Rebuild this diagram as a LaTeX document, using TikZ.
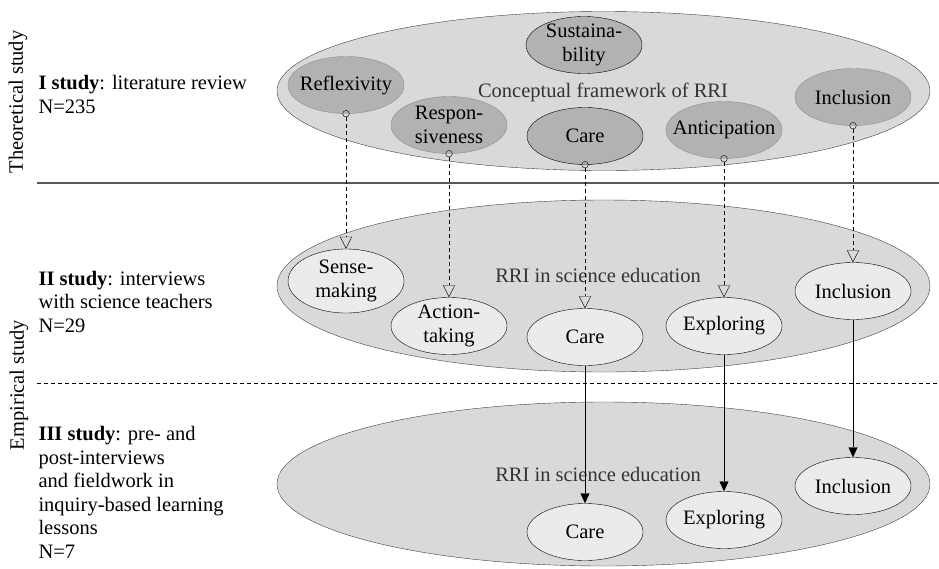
\documentclass[tikz,border=0pt]{standalone}
\usepackage{fontspec}
\setmainfont{Liberation Serif}
\usetikzlibrary{shapes.geometric,arrows.meta}

\definecolor{ovalbg}{gray}{0.85}
\definecolor{conceptbg}{gray}{0.70}
\definecolor{themebg}{gray}{0.92}
\definecolor{rimgray}{gray}{0.55}

\tikzset{
  studyoval/.style={ellipse, draw=black!75, fill=ovalbg, minimum width=653pt},
  concept/.style={ellipse, draw=rimgray, fill=conceptbg, minimum width=116pt,
    minimum height=57pt, inner sep=-12pt, align=center},
  keyconcept/.style={concept, draw=black},
  theme/.style={concept, draw=black, fill=themebg},
  carries/.style={dash pattern=on 4pt off 3pt, shorten <=-3.5pt,
    {Circle[open,length=7pt,width=7pt]}-{Triangle[open,length=12pt,width=12pt]}},
  follows/.style={-{Triangle[length=10pt,width=9pt]}},
  studytext/.style={anchor=base west, align=left},
}

\begin{document}
\begin{tikzpicture}[x=1pt,y=-1pt,font=\fontsize{20.5}{23.5}\selectfont]
\useasboundingbox (0,0) rectangle (939,568);

% study levels
\node[rotate=90] (theolab) at (18,102) {Theoretical study};
\node[rotate=90] (emplab) at (19,385) {Empirical study};
\node[studytext] (st1) at (35,113) {\textbf{I study}: literature review\\N=235};
\node[studytext] (st2) at (35,332) {\textbf{II study}: interviews\\with science teachers\\N=29};
\node[studytext] (st3) at (35,558) {\textbf{III study}: pre- and\\post-interviews\\and fieldwork in\\inquiry-based learning\\lessons\\N=7};

\draw[black!65, line width=1.2pt] (37,183) -- (939,183);
\draw[dash pattern=on 4pt off 3pt] (37,383) -- (939,383);

% big ovals
\node[studyoval, minimum height=159pt] (theory) at (603.5,91) {};
\node[studyoval, minimum height=172pt] (interviews) at (603.5,286) {};
\node[studyoval, minimum height=164pt] (fieldwork) at (603.5,484) {};

\node[text=black!80] (ttl1) at (603,92) {Conceptual framework of RRI};
\node[text=black!80] (ttl2) at (598,275) {RRI in science education};
\node[text=black!80] (ttl3) at (598,474) {RRI in science education};

% I study
\node[keyconcept] (sust) at (584,45) {Sustaina-\\bility};
\node[concept] (refl) at (346,85) {Reflexivity};
\node[concept] (resp) at (449,125) {Respon-\\siveness};
\node[keyconcept] (caret) at (585,136) {Care};
\node[concept] (antic) at (724,130) {Anticipation};
\node[concept] (inclt) at (853,97) {Inclusion};

% II study
\node[theme, minimum height=64pt] (sense) at (346,281) {Sense-\\making};
\node[theme] (action) at (449,326) {Action-\\taking};
\node[theme] (carei) at (585,337) {Care};
\node[theme] (explri) at (724,326) {Exploring};
\node[theme] (incli) at (853,291) {Inclusion};

% III study
\node[theme] (caref) at (585,532) {Care};
\node[theme] (explrf) at (724,520) {Exploring};
\node[theme] (inclf) at (853,486) {Inclusion};

\foreach \a/\b in {refl/sense, resp/action, caret/carei, antic/explri, inclt/incli}
   \draw[carries] (\a.south) -- (\b.north);

\foreach \a/\b in {carei/caref, explri/explrf, incli/inclf}
   \draw[follows] (\a.south) -- (\b.north);

\end{tikzpicture}
\end{document}
